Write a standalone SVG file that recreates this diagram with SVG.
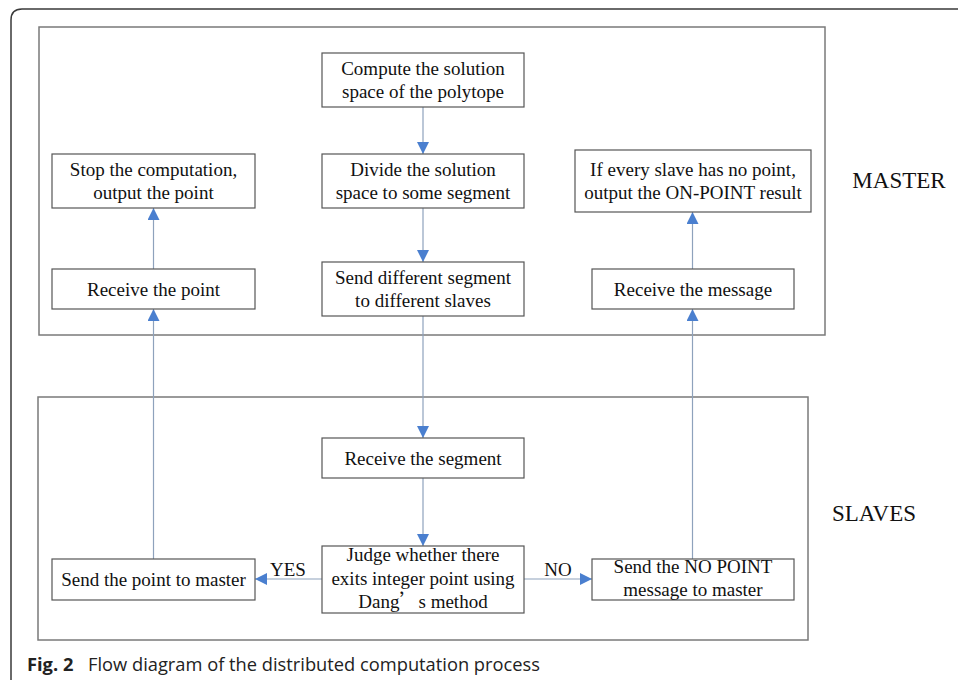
<svg xmlns="http://www.w3.org/2000/svg" width="958" height="680" viewBox="0 0 958 680">
<style>
.frame{fill:none;stroke:#3a3a3a;stroke-width:1.5}
.group{fill:none;stroke:#7a7a7a;stroke-width:1.5}
.box{fill:#fff;stroke:#555;stroke-width:1.2}
.t{font-family:"Liberation Serif","Times New Roman",serif;font-size:19px;fill:#111;text-anchor:middle}
.big{font-family:"Liberation Serif","Times New Roman",serif;font-size:23px;fill:#111;text-anchor:middle}
.conn{fill:none;stroke:#8ea2bc;stroke-width:1.2}
.cap{font-family:"Open Sans","Noto Sans",sans-serif;font-size:18.3px;fill:#222}
</style>
<defs>
<marker id="arr" viewBox="0 0 12 12" markerWidth="12" markerHeight="12" refX="12" refY="6" orient="auto" markerUnits="userSpaceOnUse">
<path d="M0,0 L12,6 L0,12 z" fill="#4a7fcf"/>
</marker>
</defs>
<rect width="958" height="680" fill="#fff"/>
<path class="frame" d="M11,680 L11,20 Q11,9 22,9 L958,9"/>
<rect class="group" x="39" y="27" width="786" height="308"/>
<rect class="group" x="38" y="397" width="770" height="243"/>
<text class="big" x="899" y="188">MASTER</text>
<text class="big" x="874" y="521">SLAVES</text>

<g id="connectors">
<line class="conn" x1="423" y1="107" x2="423" y2="154" marker-end="url(#arr)"/>
<line class="conn" x1="423" y1="208" x2="423" y2="262" marker-end="url(#arr)"/>
<line class="conn" x1="423" y1="316" x2="423" y2="438" marker-end="url(#arr)"/>
<line class="conn" x1="423" y1="478" x2="423" y2="546" marker-end="url(#arr)"/>
<line class="conn" x1="322" y1="579" x2="255" y2="579" marker-end="url(#arr)"/>
<line class="conn" x1="524" y1="579" x2="592" y2="579" marker-end="url(#arr)"/>
<line class="conn" x1="153.5" y1="559" x2="153.5" y2="309" marker-end="url(#arr)"/>
<line class="conn" x1="153.5" y1="269" x2="153.5" y2="208" marker-end="url(#arr)"/>
<line class="conn" x1="692.5" y1="559" x2="692.5" y2="309" marker-end="url(#arr)"/>
<line class="conn" x1="692.5" y1="269" x2="692.5" y2="212" marker-end="url(#arr)"/>
<text class="t" x="288" y="576">YES</text>
<text class="t" x="558" y="576">NO</text>
</g>

<g id="compute">
<rect class="box" x="322" y="53" width="202" height="54"/>
<text class="t" x="423" y="74.5">Compute the solution</text>
<text class="t" x="423" y="97.5">space of the polytope</text>
</g>
<g id="divide">
<rect class="box" x="322" y="154" width="202" height="54"/>
<text class="t" x="423" y="175.5">Divide the solution</text>
<text class="t" x="423" y="198.5">space to some segment</text>
</g>
<g id="send-different">
<rect class="box" x="322" y="262" width="202" height="54"/>
<text class="t" x="423" y="283.5">Send different segment</text>
<text class="t" x="423" y="306.5">to different slaves</text>
</g>
<g id="stop">
<rect class="box" x="52" y="154" width="203" height="54"/>
<text class="t" x="153.5" y="175.5">Stop the computation,</text>
<text class="t" x="153.5" y="198.5">output the point</text>
</g>
<g id="receive-point">
<rect class="box" x="52" y="269" width="203" height="40"/>
<text class="t" x="153.5" y="295.5">Receive the point</text>
</g>
<g id="if-every">
<rect class="box" x="575" y="150" width="236" height="62"/>
<text class="t" x="693" y="175.5">If every slave has no point,</text>
<text class="t" x="693" y="198.5">output the ON-POINT result</text>
</g>
<g id="receive-message">
<rect class="box" x="592" y="269" width="202" height="40"/>
<text class="t" x="693" y="295.5">Receive the message</text>
</g>
<g id="receive-segment">
<rect class="box" x="322" y="438" width="202" height="40"/>
<text class="t" x="423" y="464.5">Receive the segment</text>
</g>
<g id="judge">
<rect class="box" x="322" y="546" width="202" height="67"/>
<text class="t" x="423" y="561">Judge whether there</text>
<text class="t" x="423" y="584.5">exits integer point using</text>
<text class="t" x="423" y="608">Dang<tspan font-family="'Noto Sans CJK SC',sans-serif">’</tspan>s method</text>
</g>
<g id="send-point">
<rect class="box" x="52" y="559" width="203" height="41"/>
<text class="t" x="153.5" y="586">Send the point to master</text>
</g>
<g id="send-no-point">
<rect class="box" x="592" y="559" width="202" height="41"/>
<text class="t" x="693" y="573">Send the NO POINT</text>
<text class="t" x="693" y="596">message to master</text>
</g>

<text class="cap" x="27" y="671"><tspan font-weight="bold">Fig. 2</tspan><tspan x="88">Flow diagram of the distributed computation process</tspan></text>
</svg>
